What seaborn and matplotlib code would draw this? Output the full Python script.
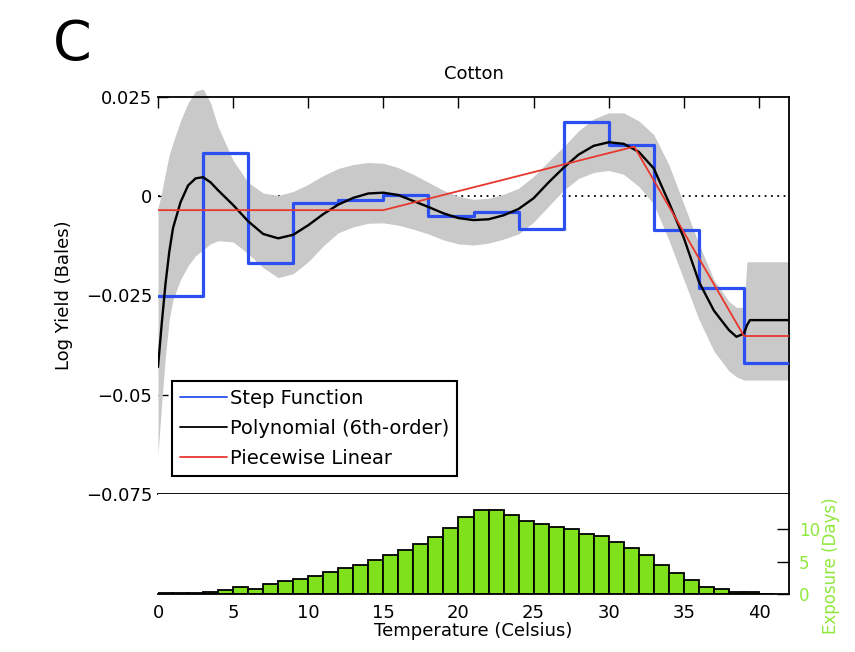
import numpy as np
import pandas as pd
import matplotlib
matplotlib.use("Agg")
import matplotlib.pyplot as plt
import seaborn as sns

# ---------------- data ----------------
# Polynomial (6th-order) fit and its confidence band
poly_temp = [0, 0.25, 0.5, 0.75, 1, 1.5, 2, 2.5, 3, 3.5, 4, 5, 6, 7, 8, 9, 10,
             11, 12, 13, 14, 15, 16, 17, 18, 19, 20, 21, 22, 23, 24, 25, 26,
             27, 28, 29, 30, 31, 32, 33, 34, 35, 36, 37, 38, 38.5, 39, 39.2,
             39.4, 42]
poly_mid = [-0.043, -0.032, -0.022, -0.014, -0.008, -0.0015, 0.0027, 0.0045,
            0.0048, 0.0035, 0.0015, -0.0022, -0.0063, -0.0095, -0.0106,
            -0.0097, -0.0073, -0.0045, -0.0021, -0.0004, 0.0007, 0.0009,
            0.0003, -0.0012, -0.0027, -0.0043, -0.0055, -0.006, -0.0058,
            -0.0048, -0.0032, -0.0005, 0.0035, 0.0072, 0.0105, 0.0127,
            0.0136, 0.0132, 0.0112, 0.0070, -0.0015, -0.0105, -0.0215,
            -0.0288, -0.0337, -0.0354, -0.0346, -0.0325, -0.0312, -0.0312]
poly_upper = [-0.003, 0.001, 0.006, 0.0105, 0.0135, 0.019, 0.0235, 0.0265,
              0.027, 0.0235, 0.0175, 0.009, 0.0035, 0.0008, 0.0002, 0.0012,
              0.003, 0.0052, 0.007, 0.008, 0.0085, 0.0083, 0.0072, 0.0055,
              0.0035, 0.0015, 0.0, -0.0008, -0.0005, 0.0005, 0.002, 0.005,
              0.0088, 0.0125, 0.0165, 0.0195, 0.021, 0.021, 0.019, 0.0155,
              0.008, -0.002, -0.012, -0.021, -0.0265, -0.028, -0.028,
              -0.0165, -0.0165, -0.0165]
poly_lower = [-0.065, -0.052, -0.040, -0.031, -0.026, -0.021, -0.0175,
              -0.015, -0.0135, -0.012, -0.0112, -0.0115, -0.0145, -0.018,
              -0.0205, -0.0195, -0.0165, -0.0125, -0.0092, -0.0077, -0.0068,
              -0.0067, -0.0073, -0.0083, -0.0095, -0.011, -0.012, -0.0123,
              -0.0118, -0.0108, -0.0095, -0.0065, -0.0025, 0.0015, 0.0045,
              0.006, 0.0065, 0.0055, 0.0025, -0.002, -0.011, -0.021, -0.031,
              -0.039, -0.044, -0.0455, -0.0463, -0.0463, -0.0463, -0.0463]

# Step function (3-degree bins)
step_edges = [0, 3, 6, 9, 12, 15, 18, 21, 24, 27, 30, 33, 36, 39, 42]
step_values = [-0.025, 0.0108, -0.0167, -0.0016, -0.001, 0.0003, -0.005,
               -0.0039, -0.0083, 0.0187, 0.0129, -0.0085, -0.0232, -0.0421]

# Piecewise linear
pw_temp = [0, 15, 31.7, 39, 42]
pw_values = [-0.0035, -0.0035, 0.0125, -0.0352, -0.0352]

# Exposure histogram (days per 1-degree bin)
expo_temp = list(range(0, 41))
expo_days = [0.17, 0.17, 0.09, 0.26, 0.69, 1.08, 0.78, 1.47, 1.98, 2.33,
             2.76, 3.45, 3.97, 4.4, 5.17, 6.03, 6.81, 7.67, 8.79, 10.1,
             11.8, 12.9, 12.9, 12.2, 11.3, 10.8, 10.3, 10.0, 9.3, 9.0, 8.0,
             7.1, 6.0, 4.4, 3.2, 2.2, 1.1, 0.7, 0.3, 0.26, 0.05]

yticks_main = [-0.075, -0.05, -0.025, 0, 0.025]
ytick_labels_main = ["\u22120.075", "\u22120.05", "\u22120.025", "0", "0.025"]
xticks = [0, 5, 10, 15, 20, 25, 30, 35, 40]
yticks_expo = [0, 5, 10]

# ---------------- style ----------------
sns.set_theme(style="white")
plt.rcParams["font.family"] = ["DejaVu Sans"]
plt.rcParams["text.color"] = "black"
plt.rcParams["axes.labelcolor"] = "black"
plt.rcParams["xtick.color"] = "black"
plt.rcParams["ytick.color"] = "black"

BLUE = "#2b4ff0"
RED = "#e8372c"
GREY = "#c9c9c9"
GREEN = "#7fe01c"
GREEN_TXT = "#8fe83c"

W, H = 855, 652
fig = plt.figure(figsize=(W / 100, H / 100), dpi=100)
L, R = 158, 789
ax = fig.add_axes([L / W, 1 - 494 / H, (R - L) / W, (494 - 97) / H])
axh = fig.add_axes([L / W, 1 - 594 / H, (R - L) / W, (594 - 494) / H])

# ---------------- main panel ----------------
ax.axhline(0, color="black", ls=(0, (1, 2.5)), lw=1.3, zorder=1)
ax.fill_between(poly_temp, poly_lower, poly_upper, color=GREY, lw=0,
                zorder=2, clip_on=False)

step_df = pd.DataFrame({"t": step_edges,
                        "v": step_values + [step_values[-1]]})
sns.lineplot(data=step_df, x="t", y="v", drawstyle="steps-post", color=BLUE,
             lw=2.3, ax=ax, zorder=3, label="Step Function")
sns.lineplot(x=poly_temp, y=poly_mid, color="black", lw=1.7, ax=ax,
             zorder=4, label="Polynomial (6th-order)")
sns.lineplot(x=pw_temp, y=pw_values, color=RED, lw=1.3, ax=ax, zorder=5,
             label="Piecewise Linear")

ax.set_xlim(0, 42)
ax.set_ylim(-0.075, 0.025)
ax.set_yticks(yticks_main)
ax.set_yticklabels(ytick_labels_main)
ax.set_xticks(xticks)
ax.tick_params(axis="x", top=True, bottom=False, labeltop=False,
               labelbottom=False, direction="in", length=8, width=1,
               color="black")
ax.tick_params(axis="y", left=True, direction="in", length=7, width=1,
               color="black", labelsize=13, pad=4, labelcolor="black")
ax.set_xlabel("")
ax.set_ylabel("Log Yield (Bales)", fontsize=13, color="black")
ax.yaxis.set_label_coords(-0.135, 0.5)
ax.set_title("Cotton", fontsize=13, pad=13, color="black")
ax.spines["left"].set_visible(False)
for s in ("top", "right", "bottom"):
    ax.spines[s].set_color("black")
    ax.spines[s].set_linewidth(1.3)

handles, labels = ax.get_legend_handles_labels()
leg = ax.legend(handles, labels, loc="upper left",
                bbox_to_anchor=(172 / W, 1 - 381 / H),
                bbox_transform=fig.transFigure, frameon=True, fancybox=False,
                edgecolor="black", framealpha=1, fontsize=14,
                handlelength=2.4, handletextpad=0.15, borderpad=0.42,
                labelspacing=0.55, borderaxespad=0)
leg.get_frame().set_linewidth(1.5)
for ln in leg.get_lines():
    ln.set_linewidth(1.3)
for t in leg.get_texts():
    t.set_color("black")

# ---------------- exposure panel ----------------
sns.histplot(x=expo_temp, weights=expo_days, bins=list(range(0, 42)),
             color=GREEN, edgecolor="black", linewidth=1.3, alpha=1,
             ax=axh)
axh.set_xlim(0, 42)
axh.set_ylim(0, 15.4)
axh.set_xticks(xticks)
axh.set_yticks(yticks_expo)
axh.yaxis.tick_right()
axh.yaxis.set_label_position("right")
axh.tick_params(axis="y", right=True, left=False, direction="in", length=9,
                width=1, color="black", labelcolor=GREEN_TXT, labelsize=12,
                pad=7)
axh.tick_params(axis="x", bottom=False, length=0, labelsize=13, pad=7,
                labelcolor="black")
axh.set_xlabel("Temperature (Celsius)", fontsize=13, color="black",
               labelpad=0)
axh.set_ylabel("Exposure (Days)", fontsize=12, color=GREEN_TXT)
axh.yaxis.set_label_coords(1.053, 0.28)
axh.spines["left"].set_visible(False)
axh.spines["top"].set_visible(False)
for s in ("right", "bottom"):
    axh.spines[s].set_color("black")
    axh.spines[s].set_linewidth(1.3)

fig.text(53 / W, 1 - 60 / H, "C", fontsize=40, ha="left", va="baseline",
         color="black")

fig.savefig("out.png", dpi=100)
